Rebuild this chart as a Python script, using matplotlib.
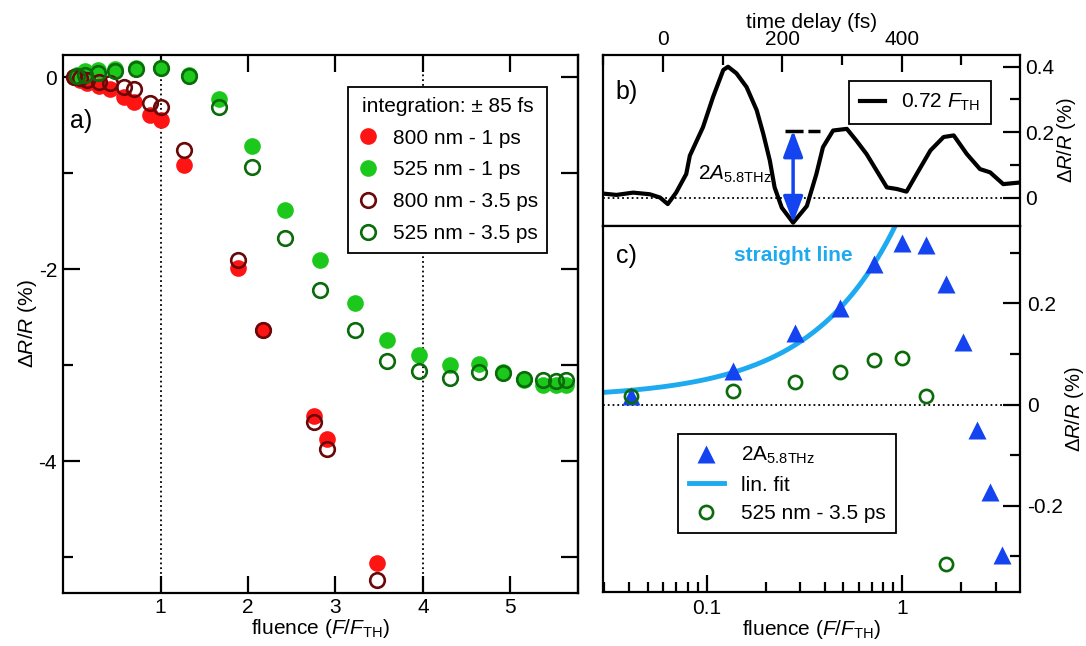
import numpy as np
import matplotlib
matplotlib.use("Agg")
import matplotlib.pyplot as plt
from matplotlib.ticker import MultipleLocator, LogLocator, FuncFormatter, NullFormatter

plt.rcParams['font.family'] = ['Liberation Sans', 'DejaVu Sans']
plt.rcParams['mathtext.fontset'] = 'custom'
plt.rcParams['mathtext.rm'] = 'Liberation Sans'
plt.rcParams['mathtext.it'] = 'Liberation Sans:italic'
plt.rcParams['mathtext.bf'] = 'Liberation Sans:bold'
plt.rcParams['font.size'] = 15
plt.rcParams['axes.linewidth'] = 1.6
plt.rcParams['axes.unicode_minus'] = False

# ---- panel a: fluence dependence ----
fluence_800 = [0.01, 0.08, 0.16, 0.29, 0.42, 0.58, 0.70, 0.88, 1.0, 1.27, 1.88, 2.17, 2.75, 2.90, 3.48]
red_1ps = [0, -0.03, -0.06, -0.09, -0.125, -0.21, -0.26, -0.40, -0.445, -0.92, -1.99, -2.63, -3.53, -3.77, -5.06]
red_35ps = [0, -0.01, -0.03, -0.05, -0.06, -0.10, -0.125, -0.27, -0.31, -0.757, -1.90, -2.63, -3.59, -3.87, -5.24]

fluence_525 = [0.041, 0.136, 0.282, 0.48, 0.719, 1.0, 1.32, 1.67, 2.04, 2.42, 2.82, 3.22, 3.59,
               3.96, 4.31, 4.64, 4.92, 5.16, 5.37, 5.52, 5.64]
green_1ps = [0.02, 0.06, 0.076, 0.083, 0.094, 0.094, 0.024, -0.23, -0.72, -1.38, -1.91, -2.35, -2.74,
             -2.89, -3.00, -2.99, -3.07, -3.15, -3.21, -3.21, -3.21]
green_35ps = [0.016, 0.026, 0.045, 0.065, 0.089, 0.092, 0.016, -0.315, -0.94, -1.68, -2.22, -2.63, -2.96,
              -3.06, -3.13, -3.07, -3.08, -3.14, -3.16, -3.17, -3.15]

# ---- panel b: transient at 0.72 F_TH ----
delay = [-100, -78, -50, -22, -5, 8, 22, 39, 45, 67, 84, 101, 109, 123, 140, 157, 168, 179, 187, 199,
         218, 241, 257, 268, 285, 308, 324, 341, 358, 375, 392, 408, 425, 448, 470, 487, 509, 531,
         548, 570, 598]
trace = [0.012, 0.008, 0.015, 0.010, 0.0, -0.020, 0.015, 0.072, 0.128, 0.215, 0.308, 0.390, 0.400,
         0.380, 0.338, 0.267, 0.195, 0.113, 0.031, -0.031, -0.077, -0.026, 0.072, 0.154, 0.205,
         0.210, 0.174, 0.133, 0.082, 0.031, 0.026, 0.018, 0.072, 0.144, 0.185, 0.190, 0.133, 0.087,
         0.077, 0.041, 0.046]
arrow_t = 218
arrow_low, arrow_high = -0.077, 0.205
dash_t = [204, 263]

# ---- panel c: phonon amplitude ----
amp_58 = [0.016, 0.066, 0.142, 0.191, 0.277, 0.319, 0.315, 0.238, 0.123, -0.050, -0.172, -0.297]
fit_offset, fit_slope = 0.013, 0.37

red = '#ff1414'
green = '#1cc81c'
dred = '#6a0808'
dgreen = '#0b6b0b'
blue = '#1443f0'
cyan = '#1eaaf0'

fig = plt.figure(figsize=(10.86, 6.46), dpi=100)
ax_a = fig.add_axes([0.0577, 0.0825, 0.4742, 0.8324])
ax_b = fig.add_axes([0.5555, 0.6502, 0.3837, 0.2647])
ax_c = fig.add_axes([0.5555, 0.0841, 0.3837, 0.5661])

# panel a
ax_a.axvline(1, color='k', ls=':', lw=1.3, zorder=1)
ax_a.axvline(4, color='k', ls=':', lw=1.3, zorder=1)
ax_a.plot(fluence_800, red_1ps, 'o', color=red, ms=12, mec='none', label='800 nm - 1 ps', zorder=2)
ax_a.plot(fluence_525, green_1ps, 'o', color=green, ms=12, mec='none', label='525 nm - 1 ps', zorder=2)
ax_a.plot(fluence_800, red_35ps, 'o', mfc='none', mec=dred, ms=10.5, mew=1.9, label='800 nm - 3.5 ps', zorder=3)
ax_a.plot(fluence_525, green_35ps, 'o', mfc='none', mec=dgreen, ms=10.5, mew=1.9, label='525 nm - 3.5 ps', zorder=3)
ax_a.set_xlim(-0.12, 5.77)
ax_a.set_ylim(-5.37, 0.23)
ax_a.set_xticks([1, 2, 3, 4, 5])
ax_a.yaxis.set_major_locator(MultipleLocator(2))
ax_a.yaxis.set_minor_locator(MultipleLocator(1))
ax_a.tick_params(axis='x', direction='in', top=True, length=12, width=1.6, pad=4)
ax_a.tick_params(axis='y', which='major', direction='in', length=12, width=1.6, pad=4)
ax_a.tick_params(axis='y', which='minor', direction='in', length=7, width=1.6)
sec = ax_a.secondary_yaxis('right')
sec.set_yticks(range(-5, 1))
sec.tick_params(direction='in', length=12, width=1.6, labelright=False)
ax_a.set_xlabel(r'fluence ($F$/$F_{\mathrm{TH}}$)', labelpad=0)
ax_a.set_ylabel(r'$\Delta R$/$R$ (%)', labelpad=0)
ax_a.text(0.015, 0.865, 'a)', transform=ax_a.transAxes, fontsize=18)
leg = ax_a.legend(title='integration: ± 85 fs', loc='upper left', bbox_to_anchor=(0.554, 0.94),
                  fancybox=False, edgecolor='k', framealpha=1, handlelength=1.0, handletextpad=0.7,
                  labelspacing=0.62, borderpad=0.45, title_fontsize=15, fontsize=15, borderaxespad=0)
leg.get_frame().set_linewidth(1.3)

# panel b
ax_b.plot(delay, trace, color='k', lw=3, solid_joinstyle='round', label=r'0.72 $F_{\mathrm{TH}}$')
ax_b.axhline(0, color='k', ls=':', lw=1.3)
ax_b.plot(dash_t, [arrow_high, arrow_high], color='k', lw=2.5, ls=(0, (5.2, 1.4)))
ax_b.annotate('', xy=(arrow_t, arrow_high), xytext=(arrow_t, arrow_low),
              arrowprops=dict(arrowstyle='<|-|>,head_length=0.8,head_width=0.3', color=blue,
                              lw=2.5, mutation_scale=20, shrinkA=0, shrinkB=0))
ax_b.text(58, 0.07, r'2$A_{\mathrm{5.8THz}}$', fontsize=15, va='center')
ax_b.set_xlim(-100, 598)
ax_b.set_ylim(-0.087, 0.436)
ax_b.xaxis.tick_top()
ax_b.xaxis.set_label_position('top')
ax_b.xaxis.set_major_locator(MultipleLocator(200))
ax_b.xaxis.set_minor_locator(MultipleLocator(100))
ax_b.yaxis.tick_right()
ax_b.yaxis.set_label_position('right')
ax_b.yaxis.set_major_locator(MultipleLocator(0.2))
ax_b.yaxis.set_minor_locator(MultipleLocator(0.1))
ax_b.yaxis.set_major_formatter(FuncFormatter(lambda v, p: f'{v:g}'))
ax_b.tick_params(which='major', direction='in', length=12, width=1.6, pad=4)
ax_b.tick_params(which='minor', direction='in', length=7, width=1.6)
ax_b.set_xlabel('time delay (fs)', labelpad=2)
ax_b.text(0.03, 0.74, 'b)', transform=ax_b.transAxes, fontsize=18)
lb = ax_b.legend(loc='upper right', bbox_to_anchor=(0.93, 0.845), fancybox=False, edgecolor='k',
                 framealpha=1, handlelength=1.2, fontsize=15, borderpad=0.5, borderaxespad=0)
lb.get_frame().set_linewidth(1.3)

# panel c
xfit = np.geomspace(0.03, 1.2, 200)
ax_c.axhline(0, color='k', ls=':', lw=1.3)
ax_c.plot(xfit, fit_offset + fit_slope * xfit, color=cyan, lw=3.5, label='lin. fit', zorder=2)
ax_c.plot(fluence_525[:len(amp_58)], amp_58, '^', color=blue, ms=12.5, mec='none',
          label=r'2A$_{\mathrm{5.8THz}}$', zorder=3)
ax_c.plot(fluence_525, green_35ps, 'o', mfc='none', mec=dgreen, ms=9.5, mew=1.9,
          label='525 nm - 3.5 ps', zorder=4)
ax_c.text(0.56, 0.295, 'straight line', color=cyan, fontsize=15, fontweight='bold', ha='right', va='center')
ax_c.set_xscale('log')
ax_c.set_xlim(0.0296, 3.99)
ax_c.set_ylim(-0.37, 0.353)
ax_c.xaxis.set_major_locator(LogLocator(base=10))
ax_c.xaxis.set_minor_locator(LogLocator(base=10, subs=np.arange(2, 10)))
ax_c.xaxis.set_major_formatter(FuncFormatter(lambda v, p: f'{v:g}'))
ax_c.xaxis.set_minor_formatter(NullFormatter())
ax_c.yaxis.tick_right()
ax_c.yaxis.set_label_position('right')
ax_c.yaxis.set_major_locator(MultipleLocator(0.2))
ax_c.yaxis.set_minor_locator(MultipleLocator(0.1))
ax_c.yaxis.set_major_formatter(FuncFormatter(lambda v, p: f'{v:g}'))
ax_c.tick_params(which='major', direction='in', length=12, width=1.6, pad=5)
ax_c.tick_params(which='minor', direction='in', length=7, width=1.6)
ax_c.set_xlabel(r'fluence ($F$/$F_{\mathrm{TH}}$)', labelpad=0)
for ax in (ax_b, ax_c):
    ax.set_ylabel(r'$\Delta R$/$R$ (%)', labelpad=0, fontsize=14.5)
ax_c.text(0.03, 0.9, 'c)', transform=ax_c.transAxes, fontsize=18)
h, l = ax_c.get_legend_handles_labels()
lc = ax_c.legend([h[1], h[0], h[2]], [l[1], l[0], l[2]], loc='upper left', bbox_to_anchor=(0.18, 0.43),
                 fancybox=False, edgecolor='k', framealpha=1, handlelength=1.7, handletextpad=0.8,
                 fontsize=15, borderpad=0.5, labelspacing=0.45, borderaxespad=0)
lc.get_frame().set_linewidth(1.3)

fig.savefig('out.png', dpi=100)
